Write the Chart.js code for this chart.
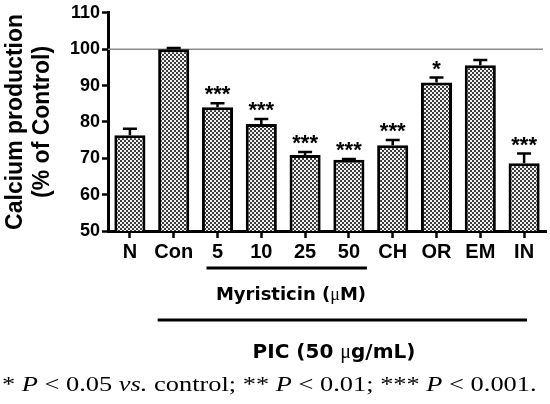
<!DOCTYPE html>
<html>
<head>
<meta charset="utf-8">
<script src="https://cdn.jsdelivr.net/npm/chart.js@4.4.1/dist/chart.umd.min.js"></script>
<style>
  body { margin: 0; background: #fff; }
  #wrap { position: relative; width: 550px; height: 404px; overflow: hidden; }
  .lbl { position: absolute; white-space: nowrap; color: #000; }
  #myr { left: 291px; top: 284px; transform: translateX(-50%);
         font: bold 18px "DejaVu Sans"; line-height: 20px; }
  #pic { left: 334px; top: 340px; transform: translateX(-50%);
         font: bold 20px "DejaVu Sans"; line-height: 22px; }
  .mu { font-family: "Liberation Serif"; font-weight: normal; }
  #foot { left: 2px; top: 372px; transform: scaleX(1.2); transform-origin: 0 0;
          font: 22px "Liberation Serif"; line-height: 24px; }
</style>
</head>
<body>
<div id="wrap">
  <canvas id="myChart" width="550" height="404"></canvas>
  <div class="lbl" id="myr">Myristicin (<span class="mu">μ</span>M)</div>
  <div class="lbl" id="pic">PIC (50 <span class="mu">μ</span>g/mL)</div>
  <div class="lbl" id="foot">* <i>P</i> &lt; 0.05 <i>vs.</i> control; ** <i>P</i> &lt; 0.01; *** <i>P</i> &lt; 0.001.</div>
</div>
<script>
// values
const labels = ['N', 'Con', '5', '10', '25', '50', 'CH', 'OR', 'EM', 'IN'];
const calcium = [76.3, 100, 84, 79.4, 70.9, 69.6, 73.6, 90.8, 95.6, 68.6];
const sem = [1.8, 0.3, 1.1, 1.4, 0.8, 0.2, 1.4, 1.4, 1.4, 2.7];
const stars = ['', '', '***', '***', '***', '***', '***', '*', '', '***'];
const yTicks = [50, 60, 70, 80, 90, 100, 110];

// checkered bar fill
function makePattern() {
  const c = document.createElement('canvas');
  c.width = 4; c.height = 4;
  const g = c.getContext('2d');
  g.fillStyle = '#f2f2f2';
  g.fillRect(0, 0, 4, 4);
  g.fillStyle = '#3c3c3c';
  g.fillRect(0, 0, 2, 2);
  g.fillRect(2, 2, 2, 2);
  return g.createPattern(c, 'repeat');
}

const extras = {
  id: 'extras',
  beforeDatasetsDraw(chart) {
    const ctx = chart.ctx, area = chart.chartArea, y = chart.scales.y;
    // control reference line
    ctx.save();
    ctx.strokeStyle = '#8a8a8a';
    ctx.lineWidth = 1.5;
    ctx.beginPath();
    ctx.moveTo(area.left, y.getPixelForValue(100));
    ctx.lineTo(area.right - 3, y.getPixelForValue(100));
    ctx.stroke();
    ctx.restore();
  },
  afterDatasetsDraw(chart) {
    const ctx = chart.ctx, y = chart.scales.y, x = chart.scales.x;
    const meta = chart.getDatasetMeta(0);
    ctx.save();
    ctx.strokeStyle = '#000';
    ctx.fillStyle = '#000';
    ctx.lineWidth = 2.5;
    meta.data.forEach(function (bar, i) {
      const top = y.getPixelForValue(calcium[i]);
      const cap = y.getPixelForValue(calcium[i] + sem[i]);
      ctx.beginPath();
      ctx.moveTo(bar.x, top);
      ctx.lineTo(bar.x, cap);
      ctx.moveTo(bar.x - 7, cap);
      ctx.lineTo(bar.x + 7, cap);
      ctx.stroke();
      if (stars[i]) {
        ctx.font = 'bold 22px "Liberation Sans"';
        ctx.textAlign = 'center';
        ctx.textBaseline = 'alphabetic';
        ctx.fillText(stars[i], bar.x, cap - 2);
      }
    });
    // group lines under the axis
    ctx.lineWidth = 3;
    ctx.beginPath();
    ctx.moveTo(x.getPixelForValue(2) - 11, 268);
    ctx.lineTo(x.getPixelForValue(5) + 18, 268);
    ctx.moveTo(x.getPixelForValue(1) - 16, 320);
    ctx.lineTo(x.getPixelForValue(9) + 3, 320);
    ctx.stroke();
    ctx.restore();
  }
};

const myChart = new Chart(document.getElementById('myChart'), {
  type: 'bar',
  data: {
    labels: labels,
    datasets: [{
      data: calcium,
      backgroundColor: makePattern(),
      borderColor: '#000',
      borderWidth: 3,
      barPercentage: 0.71,
      categoryPercentage: 1.0
    }]
  },
  options: {
    responsive: false,
    animation: false,
    devicePixelRatio: 1,
    layout: { padding: { top: 10, right: 4, left: 0, bottom: 143 } },
    plugins: { legend: { display: false }, tooltip: { enabled: false } },
    scales: {
      x: {
        afterFit: function (s) { s.height = 30; },
        grid: { drawOnChartArea: false, offset: false, tickLength: 7, tickWidth: 2.5, tickColor: '#000' },
        border: { width: 3, color: '#000' },
        ticks: { color: '#000', padding: 2, maxRotation: 0, autoSkip: false,
                 font: { family: 'Liberation Sans', weight: 'bold', size: 20 } }
      },
      y: {
        min: 50,
        max: 110,
        afterFit: function (s) { s.width = 108; },
        afterBuildTicks: function (s) { s.ticks = yTicks.map(v => ({ value: v })); },
        grid: { drawOnChartArea: false, tickLength: 6, tickWidth: 2.5, tickColor: '#000' },
        border: { width: 3, color: '#000' },
        ticks: { color: '#000', padding: 2,
                 font: { family: 'Liberation Sans', weight: 'bold', size: 18 } },
        title: {
          display: true,
          text: ['Calcium production', '(% of Control)'],
          color: '#000',
          padding: { top: 2, bottom: 0 },
          font: { family: 'Liberation Sans', weight: 'bold', size: 23, lineHeight: 1.17 }
        }
      }
    }
  },
  plugins: [extras]
});
</script>
</body>
</html>
